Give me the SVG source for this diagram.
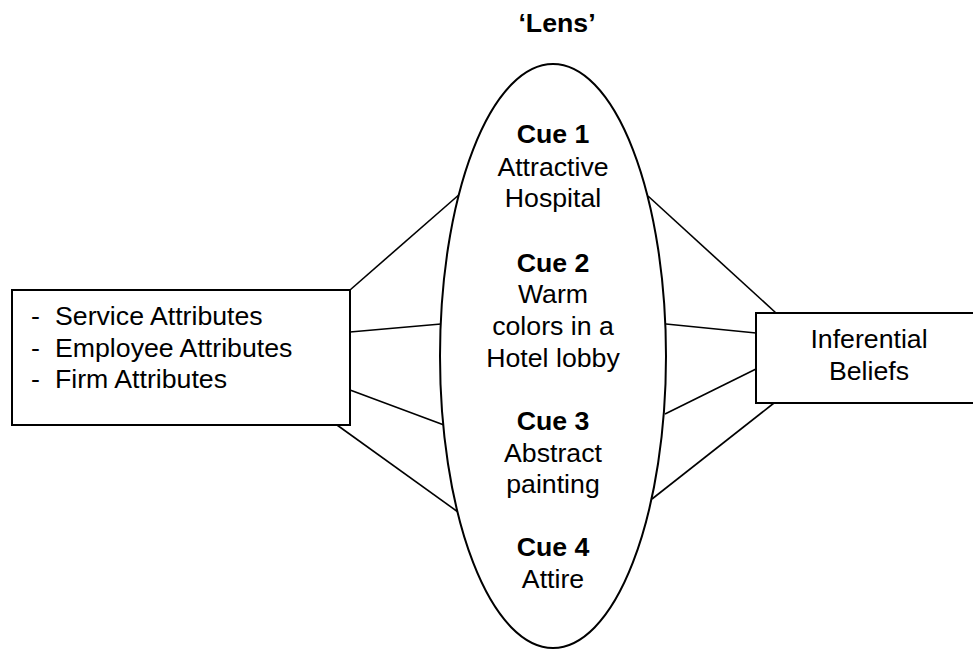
<svg xmlns="http://www.w3.org/2000/svg" width="973" height="649" viewBox="0 0 973 649">
<style>
  .shape { fill: #fff; stroke: #000; stroke-width: 2; }
  .conn line { stroke: #000; stroke-width: 1.6; }
  text { font-family: "Liberation Sans", Arial, sans-serif; font-size: 26.7px; fill: #000; }
  .b { font-weight: bold; }
  .c { text-anchor: middle; }
</style>
<rect width="973" height="649" fill="#fff"/>
<g id="connectors" class="conn">
  <line x1="350" y1="290" x2="461" y2="193"/>
  <line x1="350" y1="332" x2="441" y2="324"/>
  <line x1="350" y1="390" x2="444" y2="425"/>
  <line x1="337" y1="425" x2="458" y2="512"/>
  <line x1="648" y1="196" x2="776" y2="313"/>
  <line x1="666" y1="324" x2="756" y2="333"/>
  <line x1="665" y1="414" x2="756" y2="369"/>
  <line x1="652" y1="499" x2="774" y2="403"/>
</g>
<g id="lens-title">
  <text class="b c" x="557" y="32">‘Lens’</text>
</g>
<g id="lens">
  <ellipse class="shape" cx="553" cy="356" rx="113" ry="292"/>
  <text class="b c" x="553" y="143">Cue 1</text>
  <text class="c" x="553" y="176">Attractive</text>
  <text class="c" x="553" y="207">Hospital</text>
  <text class="b c" x="553" y="272">Cue 2</text>
  <text class="c" x="553" y="303">Warm</text>
  <text class="c" x="553" y="335">colors in a</text>
  <text class="c" x="553" y="367">Hotel lobby</text>
  <text class="b c" x="553" y="430">Cue 3</text>
  <text class="c" x="553" y="462">Abstract</text>
  <text class="c" x="553" y="493">painting</text>
  <text class="b c" x="553" y="556">Cue 4</text>
  <text class="c" x="553" y="588">Attire</text>
</g>
<g id="attributes">
  <rect class="shape" x="12" y="290" width="338" height="135"/>
  <text x="31" y="325">-</text><text x="55" y="325">Service Attributes</text>
  <text x="31" y="357">-</text><text x="55" y="357">Employee Attributes</text>
  <text x="31" y="388">-</text><text x="55" y="388">Firm Attributes</text>
</g>
<g id="beliefs">
  <rect class="shape" x="756" y="313" width="240" height="90"/>
  <text class="c" x="869" y="348">Inferential</text>
  <text class="c" x="869" y="380">Beliefs</text>
</g>
</svg>
